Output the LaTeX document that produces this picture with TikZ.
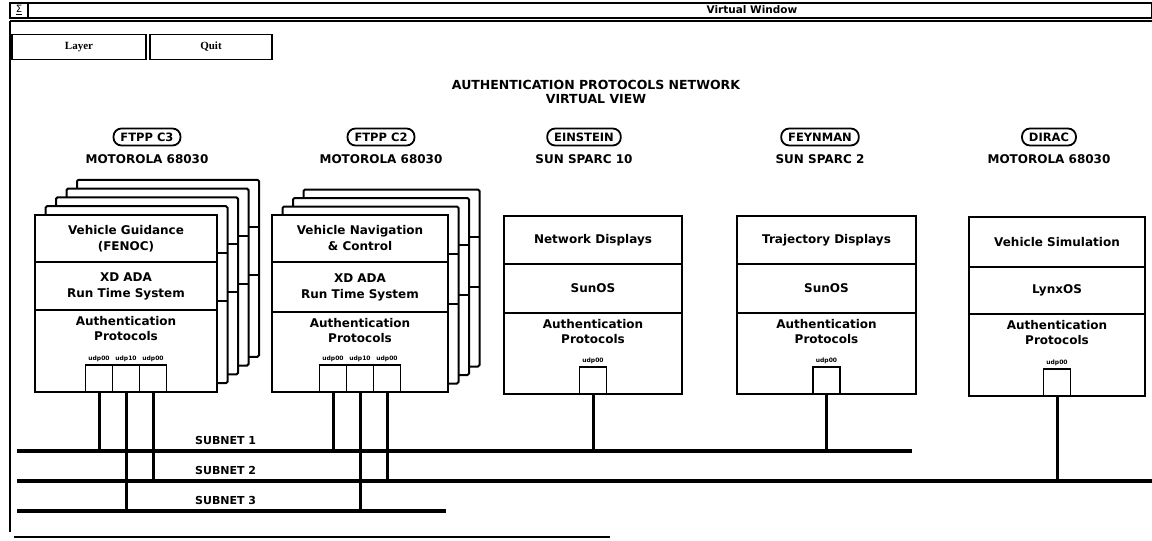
\documentclass[tikz,border=0pt]{standalone}
\usepackage{fontspec}
\setmainfont{DejaVu Sans}
\newfontfamily\btnfont{Liberation Serif}
\usetikzlibrary{positioning}

\begin{document}
\begin{tikzpicture}[
  x=1pt, y=1pt,
  frame/.style={line width=1.8pt, black},
  button/.style={draw, line width=1.8pt, minimum width=134pt, minimum height=25pt,
                 inner sep=0pt, outer sep=0pt, font=\btnfont\bfseries\fontsize{11}{12}\selectfont},
  capsule/.style={draw, line width=1.8pt, rounded corners=8pt, minimum height=17pt,
                  inner xsep=7pt, inner ysep=0pt, font=\bfseries\fontsize{11.5}{12}\selectfont},
  hostcpu/.style={font=\bfseries\fontsize{12}{13}\selectfont, inner sep=0pt},
  layer/.style={draw, line width=2pt, fill=white, minimum width=178pt, inner sep=0pt,
                outer sep=0pt, align=center, font=\bfseries\fontsize{12}{16}\selectfont},
  layertext/.style={align=center, inner sep=0pt, font=\bfseries\fontsize{12}{15}\selectfont},
  sheet/.style={draw, line width=2pt, fill=white, rounded corners=1.5pt},
  port/.style={draw, line width=1.8pt, fill=white, minimum width=27pt, minimum height=27pt,
               inner sep=0pt, outer sep=0pt},
  portlabel/.style={font=\bfseries\fontsize{6}{6}\selectfont, inner sep=0pt},
  cable/.style={line width=3pt},
  subnet/.style={line width=4pt},
  netlabel/.style={font=\bfseries\fontsize{11}{12}\selectfont, inner sep=0pt, anchor=south west}
]
\useasboundingbox (0,0) rectangle (1152,-541);

% window frame
\draw[frame] (10,-3) rectangle (1152,-18);
\draw[frame] (10,-21) -- (1152,-21);
\draw[frame] (28,-3) -- (28,-18);
\node[font=\fontsize{10}{10}\selectfont] (menuicon) at (19,-10) {\underline{Σ}};
\node[font=\bfseries\fontsize{10.5}{11}\selectfont] (wintitle) at (752,-10) {Virtual Window};
\draw[frame] (10,-21) -- (10,-532);
\draw[frame] (14,-537) -- (610,-537);

\node[button] (layerbtn) at (79,-47) {Layer};
\node[button, minimum width=122pt, right=4pt of layerbtn] (quitbtn) {Quit};

\node[layertext, font=\bfseries\fontsize{12.5}{13.5}\selectfont] (viewtitle) at (596,-92)
  {AUTHENTICATION PROTOCOLS NETWORK\\VIRTUAL VIEW};

% stacked replicas behind the FTPP boxes
\foreach \k in {4,3,2,1}{
  \begin{scope}[shift={(10.5*\k,8.8*\k)}]
    \draw[sheet] (35,-215) rectangle (217,-392);
    \draw[line width=2pt] (35,-262) -- (217,-262) (35,-310) -- (217,-310);
  \end{scope}
}
\foreach \k in {3,2,1}{
  \begin{scope}[shift={(10.5*\k,8.5*\k)}]
    \draw[sheet] (272,-215) rectangle (448,-392);
    \draw[line width=2pt] (272,-262) -- (448,-262) (272,-312) -- (448,-312);
  \end{scope}
}

% FTPP C3
\node[capsule] (c3name) at (147,-137) {FTPP C3};
\node[hostcpu, below=8pt of c3name] (c3cpu) {MOTOROLA 68030};
\node[layer, minimum width=182pt, minimum height=47pt, anchor=north west] (c3app) at (35,-215)
  {Vehicle Guidance\\(FENOC)};
\node[layer, minimum width=182pt, minimum height=48pt, below=0pt of c3app] (c3rts)
  {XD ADA\\Run Time System};
\node[layer, minimum width=182pt, minimum height=82pt, below=0pt of c3rts] (c3auth) {};
\node[layertext, below=6pt of c3auth.north] (c3authtxt) {Authentication\\Protocols};
\node[port, anchor=south] (c3p2) at (c3auth.south) {};
\node[port, left=0pt of c3p2] (c3p1) {};
\node[port, right=0pt of c3p2] (c3p3) {};
\node[portlabel, above=3pt of c3p1] (c3l1) {udp00};
\node[portlabel, above=3pt of c3p2] (c3l2) {udp10};
\node[portlabel, above=3pt of c3p3] (c3l3) {udp00};

% FTPP C2
\node[capsule] (c2name) at (381,-137) {FTPP C2};
\node[hostcpu, below=8pt of c2name] (c2cpu) {MOTOROLA 68030};
\node[layer, minimum width=176pt, minimum height=47pt, anchor=north west] (c2app) at (272,-215)
  {Vehicle Navigation\\\& Control};
\node[layer, minimum width=176pt, minimum height=50pt, below=0pt of c2app] (c2rts)
  {XD ADA\\Run Time System};
\node[layer, minimum width=176pt, minimum height=80pt, below=0pt of c2rts] (c2auth) {};
\node[layertext, below=6pt of c2auth.north] (c2authtxt) {Authentication\\Protocols};
\node[port, anchor=south] (c2p2) at (c2auth.south) {};
\node[port, left=0pt of c2p2] (c2p1) {};
\node[port, right=0pt of c2p2] (c2p3) {};
\node[portlabel, above=3pt of c2p1] (c2l1) {udp00};
\node[portlabel, above=3pt of c2p2] (c2l2) {udp10};
\node[portlabel, above=3pt of c2p3] (c2l3) {udp00};

% EINSTEIN
\node[capsule] (einname) at (584,-137) {EINSTEIN};
\node[hostcpu, below=8pt of einname] (eincpu) {SUN SPARC 10};
\node[layer, minimum height=48pt, anchor=north west] (einapp) at (504,-216) {Network Displays};
\node[layer, minimum height=49pt, below=0pt of einapp] (einos) {SunOS};
\node[layer, minimum height=81pt, below=0pt of einos] (einauth) {};
\node[layertext, below=6pt of einauth.north] (einauthtxt) {Authentication\\Protocols};
\node[port, anchor=south] (einp) at (einauth.south) {};
\node[portlabel, above=3pt of einp] (einl) {udp00};

% FEYNMAN
\node[capsule] (feyname) at (820,-137) {FEYNMAN};
\node[hostcpu, below=8pt of feyname] (feycpu) {SUN SPARC 2};
\node[layer, minimum width=179pt, minimum height=48pt, anchor=north west] (feyapp) at (737,-216)
  {Trajectory Displays};
\node[layer, minimum width=179pt, minimum height=49pt, below=0pt of feyapp] (feyos) {SunOS};
\node[layer, minimum width=179pt, minimum height=81pt, below=0pt of feyos] (feyauth) {};
\node[layertext, below=6pt of feyauth.north] (feyauthtxt) {Authentication\\Protocols};
\node[port, anchor=south] (feyp) at (feyauth.south) {};
\node[portlabel, above=3pt of feyp] (feyl) {udp00};

% DIRAC
\node[capsule] (dirname) at (1049,-137) {DIRAC};
\node[hostcpu, below=8pt of dirname] (dircpu) {MOTOROLA 68030};
\node[layer, minimum width=176pt, minimum height=50pt, anchor=north west] (dirapp) at (969,-217)
  {Vehicle Simulation};
\node[layer, minimum width=176pt, minimum height=47pt, below=0pt of dirapp] (diros) {LynxOS};
\node[layer, minimum width=176pt, minimum height=82pt, below=0pt of diros] (dirauth) {};
\node[layertext, below=6pt of dirauth.north] (dirauthtxt) {Authentication\\Protocols};
\node[port, anchor=south] (dirp) at (dirauth.south) {};
\node[portlabel, above=3pt of dirp] (dirl) {udp00};

% subnets
\coordinate (net1w) at (17,-451);
\coordinate (net1e) at (912,-451);
\coordinate (net2w) at (17,-481);
\coordinate (net2e) at (1152,-481);
\coordinate (net3w) at (17,-511);
\coordinate (net3e) at (446,-511);

\draw[cable] (c3p1.south) -- (c3p1.south |- net1w);
\draw[cable] (c3p2.south) -- (c3p2.south |- net3w);
\draw[cable] (c3p3.south) -- (c3p3.south |- net2w);
\draw[cable] (c2p1.south) -- (c2p1.south |- net1w);
\draw[cable] (c2p2.south) -- (c2p2.south |- net3w);
\draw[cable] (c2p3.south) -- (c2p3.south |- net2w);
\draw[cable] (einp.south) -- (einp.south |- net1w);
\draw[cable] (feyp.south) -- (feyp.south |- net1w);
\draw[cable] (dirp.south) -- (dirp.south |- net2w);

\draw[subnet] (net1w) -- (net1e);
\draw[subnet] (net2w) -- (net2e);
\draw[subnet] (net3w) -- (net3e);

\node[netlabel] (net1lbl) at (195,-445) {SUBNET 1};
\node[netlabel] (net2lbl) at (195,-475) {SUBNET 2};
\node[netlabel] (net3lbl) at (195,-505) {SUBNET 3};

\end{tikzpicture}
\end{document}
